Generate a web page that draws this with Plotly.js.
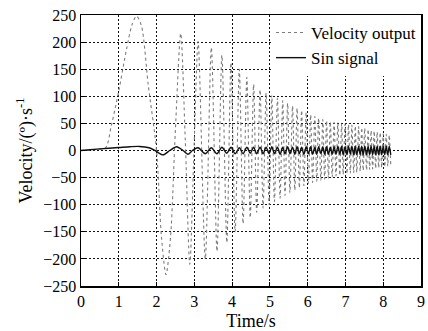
<!DOCTYPE html>
<html>
<head>
<meta charset="utf-8">
<script src="https://cdn.plot.ly/plotly-3.0.1.min.js"></script>
<style>html,body{margin:0;padding:0;background:#fff;}#chart{width:428px;height:331px;}</style>
</head>
<body>
<div id="chart"></div>
<script>
// ---- data ----
// early (slow) part of the velocity output: time (s) and value (deg/s)
var velEarlyT = [0, 0.4, 0.65, 0.8, 1.0, 1.2, 1.35, 1.47, 1.6, 1.78, 2.0, 2.13, 2.25, 2.37, 2.5, 2.64, 2.76, 2.88, 2.99];
var velEarlyV = [0, 2, 5, 45, 110, 185, 232, 248, 230, 121, 0, -160, -229, -160, 40, 216, 20, -210, 0];

// dense part: times of the successive peaks / troughs
var denseT = [3.10, 3.29, 3.45, 3.60, 3.73, 3.86, 3.97, 4.08, 4.19, 4.29, 4.39, 4.48, 4.57, 4.65, 4.74, 4.82,
  4.90, 4.98, 5.05, 5.12, 5.20, 5.27, 5.34, 5.40, 5.47, 5.53, 5.60, 5.66, 5.72, 5.78, 5.84, 5.90, 5.96,
  6.02, 6.08, 6.13, 6.19, 6.24, 6.29, 6.35, 6.40, 6.45, 6.50, 6.55, 6.60, 6.65, 6.70, 6.75, 6.80, 6.85,
  6.90, 6.94, 6.99, 7.04, 7.08, 7.13, 7.17, 7.22, 7.26, 7.30, 7.35, 7.39, 7.43, 7.47, 7.51, 7.56, 7.60,
  7.64, 7.68, 7.72, 7.76, 7.80, 7.84, 7.88, 7.92, 7.96, 8.00, 8.04, 8.08, 8.12, 8.16, 8.20];
// velocity output at those peaks / troughs
var velDenseV = [201, -200, 190, -186, 176, -170, 162, -150, 150, -135, 135, -124, 122, -114, 112, -106,
  106, -100, 102, -94, 97, -88, 92, -83, 87, -78, 82, -73, 78, -69, 74, -65, 70,
  -61, 66, -59, 63, -57, 60, -55, 57, -53, 55, -51, 53, -49, 52, -47, 51, -46,
  50, -44, 49, -43, 48, -42, 47, -41, 45, -40, 44, -38, 42, -37, 41, -36, 39,
  -35, 37, -34, 36, -33, 34, -32, 33, -31, 31, -30, 30, -29, 28, -28];

// sin signal
var sinEarlyT = [0, 0.5, 1.0, 1.3, 1.55, 1.8, 1.96, 2.17, 2.35, 2.53, 2.7, 2.83, 2.95];
var sinEarlyV = [0, 3, 5.5, 7, 7.5, 5, 0, -8, 0, 7, 0, -7, 0];
var sinDenseV = [5, -6, 5, -6, 6, -5, 6, -6, 5, -6, 6, -5, 6, -6, 6, -6,
  6, -6, 7, -6, 6, -7, 6, -6, 7, -6, 6, -7, 7, -6, 6, -7, 7,
  -6, 7, -7, 6, -7, 7, -6, 7, -7, 7, -7, 6, -7, 7, -7, 8, -7,
  8, -8, 7, -8, 8, -7, 8, -8, 8, -8, 8, -8, 8, -8, 8, -8, 8,
  -8, 8, -8, 8, -8, 8, -8, 8, -8, 8, -8, 8, -8, 8, -8];

var xTicks = [0, 1, 2, 3, 4, 5, 6, 7, 8, 9];
var yTicks = [-250, -200, -150, -100, -50, 0, 50, 100, 150, 200, 250];

var serif = 'Liberation Serif, Times New Roman, serif';

var traces = [
  {
    x: velEarlyT.concat(denseT), y: velEarlyV.concat(velDenseV),
    type: 'scatter', mode: 'lines', name: 'Velocity output',
    line: {color: '#7c7c7c', width: 1.1, dash: 'dot', shape: 'spline', smoothing: 0.8}
  },
  {
    x: sinEarlyT.concat(denseT), y: sinEarlyV.concat(sinDenseV),
    type: 'scatter', mode: 'lines', name: 'Sin signal',
    line: {color: '#111', width: 1.4, shape: 'spline', smoothing: 0.8}
  }
];

var axisCommon = {
  showline: true, mirror: true, linecolor: '#000', linewidth: 1.5,
  showgrid: true, gridcolor: '#111', gridwidth: 1, griddash: '2px,2px',
  zeroline: false, ticks: 'inside', ticklen: 4, tickcolor: '#000',
  tickfont: {family: serif, size: 16, color: '#000'}
};

var layout = {
  width: 428, height: 331,
  margin: {l: 81, r: 7, t: 15, b: 45},
  paper_bgcolor: '#fff', plot_bgcolor: '#fff',
  showlegend: true,
  legend: {
    x: 1, y: 1, xanchor: 'right', yanchor: 'top',
    bgcolor: '#fff', borderwidth: 0,
    font: {family: serif, size: 17, color: '#000'},
    tracegroupgap: 0
  },
  xaxis: Object.assign({}, axisCommon, {
    range: [0, 9], tickvals: xTicks, ticktext: xTicks.map(String),
    title: {text: 'Time/s', font: {family: serif, size: 18, color: '#000'}, standoff: 8}
  }),
  yaxis: Object.assign({}, axisCommon, {
    range: [-250, 250], tickvals: yTicks, ticktext: yTicks.map(function (v) { return v < 0 ? '\u2212' + (-v) : String(v); }),
    title: {text: 'Velocity/(º)·s<sup>-1</sup>', font: {family: serif, size: 18, color: '#000'}, standoff: 6}
  })
};

Plotly.newPlot('chart', traces, layout, {staticPlot: true, displayModeBar: false});
</script>
</body>
</html>
